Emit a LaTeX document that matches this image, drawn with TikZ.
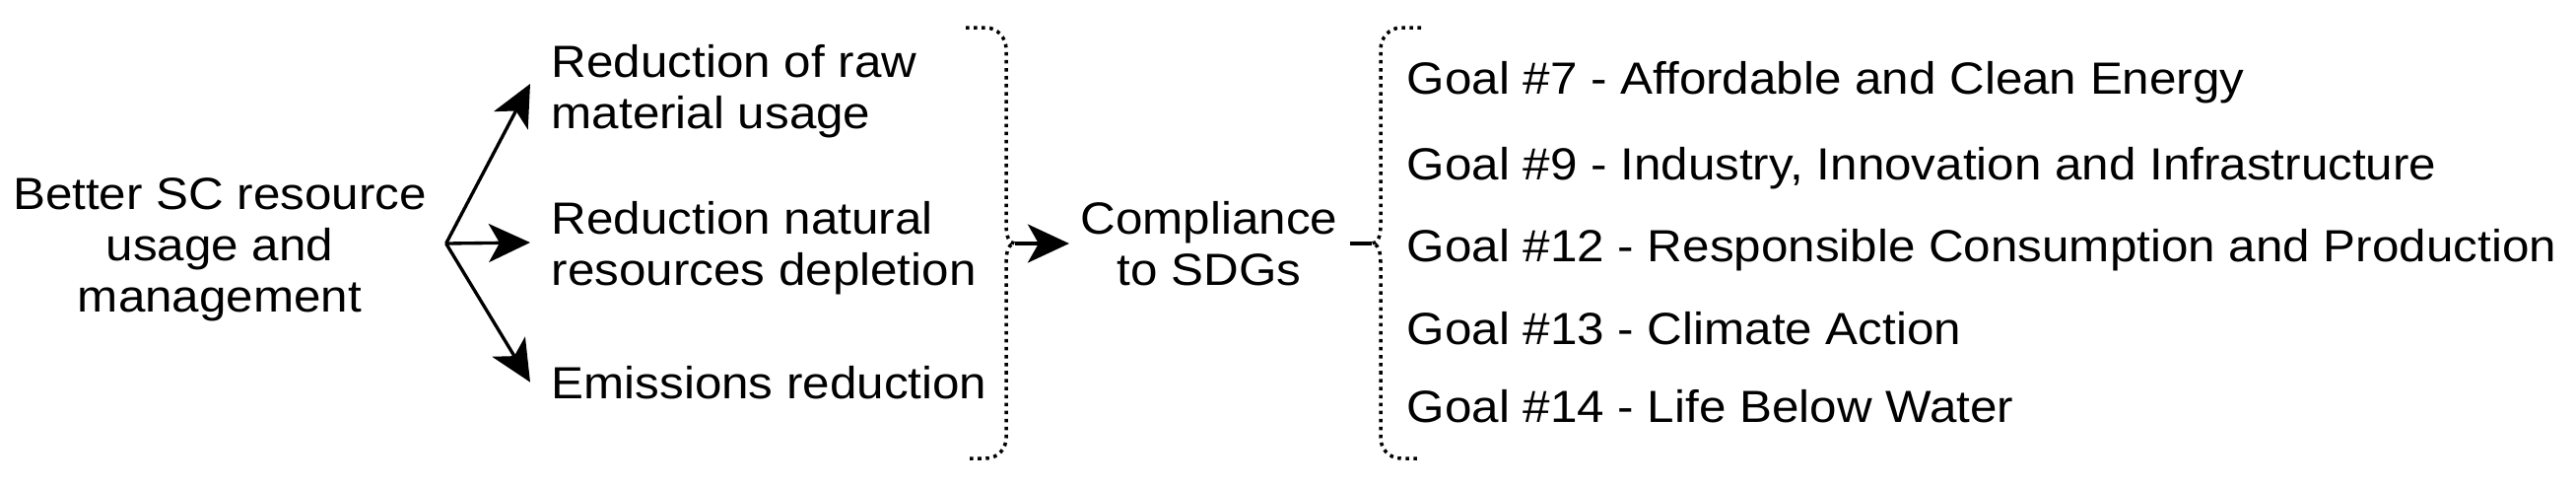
\documentclass[tikz,border=0pt]{standalone}
\usepackage{fontspec}
\setmainfont[FakeStretch=1.08]{Liberation Sans}
\usetikzlibrary{arrows.meta}

\tikzset{
  labeltext/.style={inner sep=0pt, font=\fontsize{13pt}{14.8pt}\selectfont},
  goal/.style={labeltext, anchor=base west},
  arr/.style={line width=0.95pt, -{Stealth[length=0.42cm,width=0.39cm,inset=0.11cm]}},
  bracket/.style={line width=1pt, line cap=butt, dash pattern=on 1pt off 1.3pt},
}

\begin{document}
\begin{tikzpicture}[x=0.01cm, y=-0.01cm]
\useasboundingbox (0,0) rectangle (2614,493);

\node[labeltext, align=center] (better) at (223,253) {Better SC resource\\usage and\\management}; % source
\node[labeltext, align=left, anchor=west] (raw) at (559,93) {Reduction of raw\\material usage}; % effect.1
\node[labeltext, align=left, anchor=west] (natural) at (559,252) {Reduction natural\\resources depletion}; % effect.2
\node[labeltext, anchor=base west] (emis) at (559,404) {Emissions reduction}; % effect.3
\node[labeltext, align=center] (sdg) at (1227,247) {Compliance\\to SDGs}; % result

\foreach \y/\txt [count=\i] in {95/{Goal \#7 - Affordable and Clean Energy},
  182/{Goal \#9 - Industry, Innovation and Infrastructure},
  265/{Goal \#12 - Responsible Consumption and Production},
  349/{Goal \#13 - Climate Action},
  428/{Goal \#14 - Life Below Water}}
  \node[goal] (goal\i) at (1427,\y) {\txt}; % Goal.\i

\coordinate (fork) at ([xshift=0.19cm,yshift=0.06cm]better.east);
\coordinate (lbtip) at (1030,247);
\coordinate (rbtip) at (1392,247);

\draw[arr] (fork) -- ([xshift=-0.21cm,yshift=0.08cm]raw.west);
\draw[arr] (fork) -- ([xshift=-0.21cm,yshift=0.06cm]natural.west);
\draw[arr] (fork) -- ([xshift=-0.21cm]emis.west);

% closing bracket round the effects
\draw[bracket] (980,28) -- (1000,28) .. controls (1012,28) and (1021,38) .. (1021,50)
  -- (1021,228) .. controls (1021,240) and (1024,247) .. (lbtip)
  .. controls (1024,247) and (1021,254) .. (1021,266)
  -- (1021,444) .. controls (1021,456) and (1012,465) .. (1000,465) -- (980,465);
% opening bracket round the goals
\draw[bracket] (1442,28) -- (1422,28) .. controls (1410,28) and (1401,38) .. (1401,50)
  -- (1401,228) .. controls (1401,240) and (1398,247) .. (rbtip)
  .. controls (1398,247) and (1401,254) .. (1401,266)
  -- (1401,444) .. controls (1401,456) and (1410,465) .. (1422,465) -- (1442,465);

\draw[arr] (lbtip) -- ([xshift=-0.11cm]sdg.west);
\draw[line width=0.95pt] ([xshift=0.12cm]sdg.east) -- (rbtip);

\end{tikzpicture}
\end{document}
